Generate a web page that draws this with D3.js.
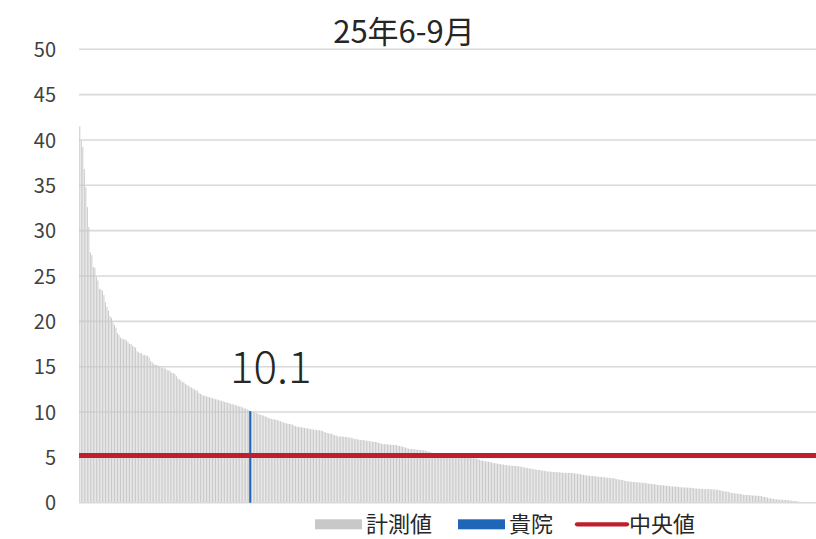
<!DOCTYPE html>
<html>
<head>
<meta charset="utf-8">
<script src="https://cdn.jsdelivr.net/npm/d3@7"></script>
<style>
  html, body { margin: 0; padding: 0; background: #ffffff; }
  svg { display: block; font-family: "Noto Sans CJK JP", "Noto Sans", sans-serif; }
</style>
</head>
<body>
<svg id="chart" width="816" height="539"></svg>
<script>
// ---- data ----
const chartTitle = "25年6-9月";
const measured = [
  41.5, 39.9, 39.2, 36.8, 34.8, 32.6, 30.4, 27.6, 27.3, 26.0,
  25.9, 24.9, 24.5, 23.6, 23.5, 23.4, 22.9, 22.1, 21.6, 21.2,
  20.6, 20.4, 19.9, 19.6, 19.3, 18.7, 18.5, 18.2, 18.1, 18.0,
  18.0, 17.9, 17.7, 17.5, 17.5, 17.3, 17.2, 17.1, 16.7, 16.6,
  16.5, 16.5, 16.3, 16.3, 16.2, 16.2, 16.0, 15.6, 15.5, 15.3,
  15.2, 15.2, 15.1, 15.0, 14.9, 14.9, 14.8, 14.8, 14.6, 14.6,
  14.5, 14.3, 14.3, 14.2, 14.0, 13.7, 13.6, 13.5, 13.3, 13.3,
  13.1, 13.0, 12.9, 12.8, 12.7, 12.6, 12.5, 12.4, 12.3, 12.1,
  12.0, 11.9, 11.8, 11.8, 11.7, 11.7, 11.6, 11.6, 11.5, 11.5,
  11.4, 11.4, 11.3, 11.3, 11.2, 11.2, 11.1, 11.1, 11.0, 11.0,
  10.9, 10.9, 10.8, 10.8, 10.7, 10.7, 10.6, 10.6, 10.5, 10.4,
  10.4, 10.3, 10.2, 10.1, 10.0, 10.0, 9.95, 9.9, 9.8, 9.75,
  9.7, 9.65, 9.6, 9.5, 9.45, 9.35, 9.3, 9.25, 9.2, 9.2,
  9.15, 9.1, 9.05, 9.0, 8.9, 8.85, 8.8, 8.75, 8.7, 8.7,
  8.65, 8.6, 8.5, 8.45, 8.4, 8.35, 8.35, 8.3, 8.3, 8.25,
  8.2, 8.2, 8.15, 8.1, 8.1, 8.05, 8.05, 8.0, 8.0, 8.0,
  7.95, 7.9, 7.8, 7.75, 7.7, 7.65, 7.6, 7.6, 7.5, 7.45,
  7.4, 7.3, 7.3, 7.3, 7.3, 7.28, 7.25, 7.25, 7.2, 7.2,
  7.15, 7.1, 7.05, 7.0, 7.0, 6.95, 6.92, 6.9, 6.9, 6.88,
  6.85, 6.82, 6.8, 6.75, 6.74, 6.72, 6.7, 6.68, 6.6, 6.56,
  6.5, 6.47, 6.45, 6.45, 6.43, 6.42, 6.4, 6.38, 6.37, 6.36,
  6.35, 6.3, 6.26, 6.22, 6.18, 6.12, 6.08, 6.0, 5.96, 5.93,
  5.92, 5.9, 5.88, 5.86, 5.84, 5.82, 5.82, 5.8, 5.78, 5.75,
  5.68, 5.64, 5.6, 5.55, 5.5, 5.45, 5.4, 5.35, 5.3, 5.22,
  5.18, 5.16, 5.14, 5.12, 5.1, 5.08, 5.06, 5.05, 5.04, 5.03,
  5.02, 5.0, 4.99, 4.98, 4.97, 4.96, 4.95, 4.94, 4.93, 4.92,
  4.91, 4.9, 4.88, 4.85, 4.8, 4.72, 4.65, 4.65, 4.62, 4.55,
  4.54, 4.52, 4.5, 4.45, 4.38, 4.36, 4.34, 4.3, 4.26, 4.25,
  4.22, 4.2, 4.16, 4.14, 4.12, 4.1, 4.08, 4.07, 4.06, 4.05,
  4.04, 4.02, 3.98, 3.96, 3.92, 3.88, 3.85, 3.82, 3.78, 3.75,
  3.73, 3.7, 3.67, 3.64, 3.62, 3.6, 3.56, 3.55, 3.52, 3.48,
  3.45, 3.44, 3.43, 3.41, 3.4, 3.38, 3.37, 3.36, 3.35, 3.33,
  3.31, 3.3, 3.3, 3.3, 3.29, 3.28, 3.27, 3.26, 3.24, 3.21,
  3.19, 3.17, 3.15, 3.1, 3.07, 3.04, 3.0, 2.98, 2.97, 2.96,
  2.95, 2.93, 2.9, 2.87, 2.86, 2.85, 2.84, 2.82, 2.8, 2.77,
  2.75, 2.73, 2.72, 2.7, 2.68, 2.66, 2.6, 2.56, 2.54, 2.52,
  2.5, 2.42, 2.38, 2.36, 2.34, 2.32, 2.31, 2.3, 2.28, 2.26,
  2.24, 2.23, 2.22, 2.2, 2.19, 2.17, 2.14, 2.1, 2.09, 2.08,
  2.06, 2.04, 2.02, 1.98, 1.95, 1.94, 1.93, 1.92, 1.9, 1.88,
  1.86, 1.82, 1.8, 1.79, 1.78, 1.77, 1.76, 1.74, 1.72, 1.7,
  1.68, 1.68, 1.67, 1.66, 1.65, 1.64, 1.63, 1.6, 1.57, 1.56,
  1.55, 1.54, 1.53, 1.52, 1.51, 1.5, 1.5, 1.49, 1.48, 1.47,
  1.46, 1.45, 1.44, 1.43, 1.38, 1.35, 1.3, 1.26, 1.24, 1.23,
  1.2, 1.12, 1.08, 1.06, 1.04, 1.02, 1.0, 0.98, 0.95, 0.92,
  0.88, 0.86, 0.85, 0.84, 0.83, 0.82, 0.8, 0.78, 0.77, 0.77,
  0.76, 0.75, 0.72, 0.66, 0.63, 0.6, 0.55, 0.5, 0.47, 0.44,
  0.41, 0.4, 0.38, 0.36, 0.34, 0.33, 0.32, 0.31, 0.3, 0.3,
  0.28, 0.25, 0.22, 0.21, 0.2, 0.18, 0.15, 0.1, 0.06, 0.03
];
const categories = measured.map((d, i) => i + 1);   // rank of each facility
const ownCategory = [114];                          // 貴院 rank
const ownValue = [10.1];                            // 貴院 value
const ownLabel = ["10.1"];
const medianValue = [5.2];                          // 中央値
const yTicks = [0, 5, 10, 15, 20, 25, 30, 35, 40, 45, 50];
const legendLabels = ["計測値", "貴院", "中央値"];

// ---- layout ----
const svg = d3.select("#chart");
const plotLeft = 79, plotRight = 816, barsRight = 803;
const yTop = 49.3, yBottom = 502.7;

const x = d3.scaleBand().domain(categories).range([plotLeft, barsRight]).paddingInner(0.35).paddingOuter(0.2);
const y = d3.scaleLinear().domain([0, 50]).range([yBottom, yTop]);

const textColor = "#404040";
const gridColor = "#d9d9d9";

// gridlines
svg.append("g").selectAll("line").data(yTicks.filter(t => t > 0)).join("line")
  .attr("x1", plotLeft).attr("x2", plotRight)
  .attr("y1", d => y(d)).attr("y2", d => y(d))
  .attr("stroke", gridColor).attr("stroke-width", 1.6);

// y axis labels via d3 axis
const yAxis = d3.axisLeft(y).tickValues(yTicks).tickSize(0).tickPadding(0);
const gy = svg.append("g").attr("transform", "translate(56,0)").call(yAxis);
gy.select(".domain").remove();
gy.selectAll("text")
  .attr("font-family", "'Noto Sans CJK JP', 'Noto Sans', sans-serif")
  .attr("font-size", 20).attr("fill", textColor).attr("dy", "0.36em");

// measured bars
svg.append("g").selectAll("rect").data(measured).join("rect")
  .attr("x", (d, i) => x(categories[i]))
  .attr("width", x.bandwidth())
  .attr("y", d => y(d))
  .attr("height", d => y(0) - y(d))
  .attr("fill", "#c8c8c8");

// baseline
svg.append("line")
  .attr("x1", plotLeft).attr("x2", plotRight)
  .attr("y1", y(0)).attr("y2", y(0))
  .attr("stroke", gridColor).attr("stroke-width", 1.6);

// own facility bar
const ownW = 2;
svg.append("g").selectAll("rect").data(ownValue).join("rect")
  .attr("x", (d, i) => x(ownCategory[i]) + x.bandwidth() / 2 - ownW / 2)
  .attr("width", ownW)
  .attr("y", d => y(d))
  .attr("height", d => y(0) - y(d))
  .attr("fill", "#1f65b8");

// median line
svg.append("g").selectAll("line").data(medianValue).join("line")
  .attr("x1", plotLeft).attr("x2", plotRight)
  .attr("y1", d => y(d)).attr("y2", d => y(d))
  .attr("stroke", "#be1e2d").attr("stroke-width", 5);

// value label
svg.append("g").selectAll("text").data(ownLabel).join("text")
  .attr("x", (d, i) => x(ownCategory[i]) + 21)
  .attr("y", (d, i) => y(ownValue[i]) - 28)
  .attr("text-anchor", "middle")
  .attr("font-size", 44).attr("font-weight", 300)
  .attr("fill", "#262626")
  .text(d => d);

// title
svg.append("text")
  .attr("x", 404).attr("y", 43)
  .attr("text-anchor", "middle")
  .attr("font-size", 31).attr("fill", "#262626")
  .text(chartTitle);

// legend
const lg = svg.append("g");
const legendY = 524.3;
lg.append("rect").attr("x", 315).attr("y", legendY - 5).attr("width", 47).attr("height", 10).attr("fill", "#c8c8c8");
lg.append("rect").attr("x", 458).attr("y", legendY - 5).attr("width", 47).attr("height", 10).attr("fill", "#1f65b8");
lg.append("line").attr("x1", 577).attr("x2", 627).attr("y1", legendY).attr("y2", legendY)
  .attr("stroke", "#be1e2d").attr("stroke-width", 4.3).attr("stroke-linecap", "round");
const legendTextX = [366, 509, 629];
lg.selectAll("text").data(legendLabels).join("text")
  .attr("x", (d, i) => legendTextX[i]).attr("y", 532)
  .attr("font-size", 22).attr("fill", "#262626")
  .text(d => d);
</script>
</body>
</html>
